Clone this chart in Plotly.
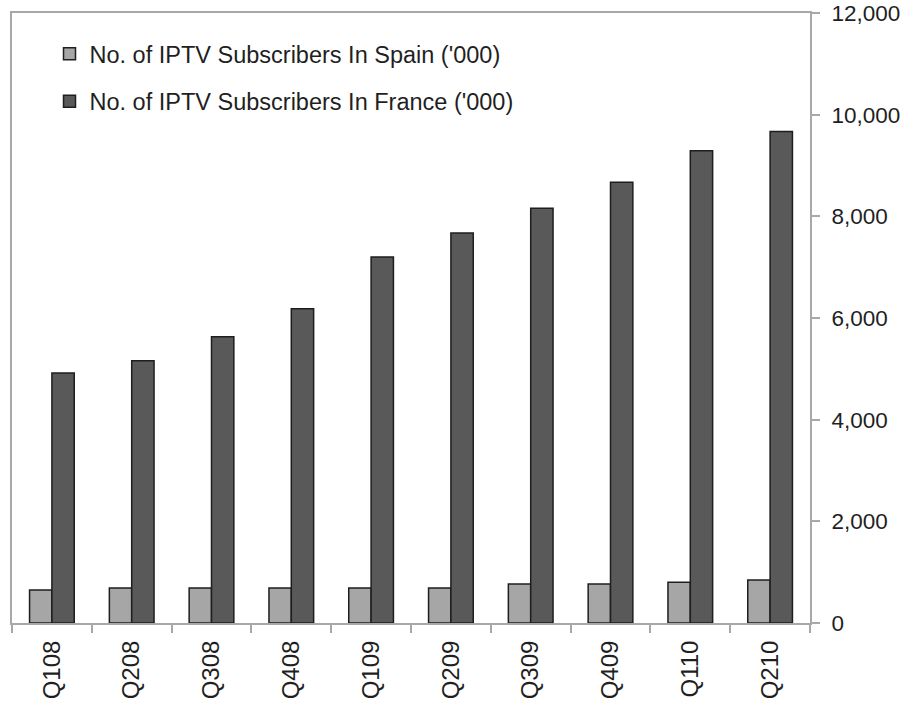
import plotly.graph_objects as go

quarters = ["Q108", "Q208", "Q308", "Q408", "Q109", "Q209", "Q309", "Q409", "Q110", "Q210"]
spain = [650, 690, 690, 690, 690, 690, 765, 765, 800, 845]
france = [4920, 5160, 5630, 6180, 7200, 7670, 8160, 8670, 9290, 9670]
y_ticks = [0, 2000, 4000, 6000, 8000, 10000, 12000]
y_tick_labels = ["0", "2,000", "4,000", "6,000", "8,000", "10,000", "12,000"]

FONT = "Liberation Sans, Arial, sans-serif"
AXIS_GREY = "#a8a8a8"
TEXT = "#1f1f1f"

fig = go.Figure()
fig.add_trace(go.Bar(
    x=quarters, y=spain, name="No. of IPTV Subscribers In Spain ('000)",
    marker=dict(color="#a6a6a6", line=dict(color="#1e1e1e", width=1.5)),
    legendgroup="spain",
))
fig.add_trace(go.Bar(
    x=quarters, y=france, name="No. of IPTV Subscribers In France ('000)",
    marker=dict(color="#595959", line=dict(color="#1e1e1e", width=1.5)),
    legendgroup="france",
))

fig.update_layout(
    width=907, height=713,
    margin=dict(l=12, r=97, t=13, b=90, autoexpand=False),
    paper_bgcolor="white", plot_bgcolor="white",
    barmode="group", bargap=0.44, bargroupgap=0,
    font=dict(family=FONT, color=TEXT),
    showlegend=True,
    legend=dict(
        x=0.047, y=0.969, xanchor="left", yanchor="top",
        bgcolor="rgba(0,0,0,0)", borderwidth=0,
        font=dict(family=FONT, size=23.5, color=TEXT),
        traceorder="grouped", tracegroupgap=14,
        itemwidth=30,
    ),
    xaxis=dict(
        type="category", showgrid=False, zeroline=False, automargin=False,
        showline=True, linecolor=AXIS_GREY, linewidth=2, mirror=True,
        ticks="outside", tickson="boundaries", ticklen=8, tickcolor=AXIS_GREY, tickwidth=2,
        tickangle=-90, ticklabelstandoff=6,
        tickfont=dict(family=FONT, size=24, color=TEXT),
    ),
    yaxis=dict(
        side="right", range=[0, 12000], showgrid=False, zeroline=False, automargin=False,
        showline=True, linecolor=AXIS_GREY, linewidth=2, mirror=True,
        ticks="outside", ticklen=8, tickcolor=AXIS_GREY, tickwidth=2,
        tickvals=y_ticks, ticktext=y_tick_labels, ticklabelstandoff=7,
        ticklabeloverflow="allow",
        tickfont=dict(family=FONT, size=22.5, color=TEXT),
    ),
)

fig.write_html(
    "out.html",
    config={"displayModeBar": False},
    post_script="document.body.style.margin='0';document.body.style.overflow='hidden';",
)
